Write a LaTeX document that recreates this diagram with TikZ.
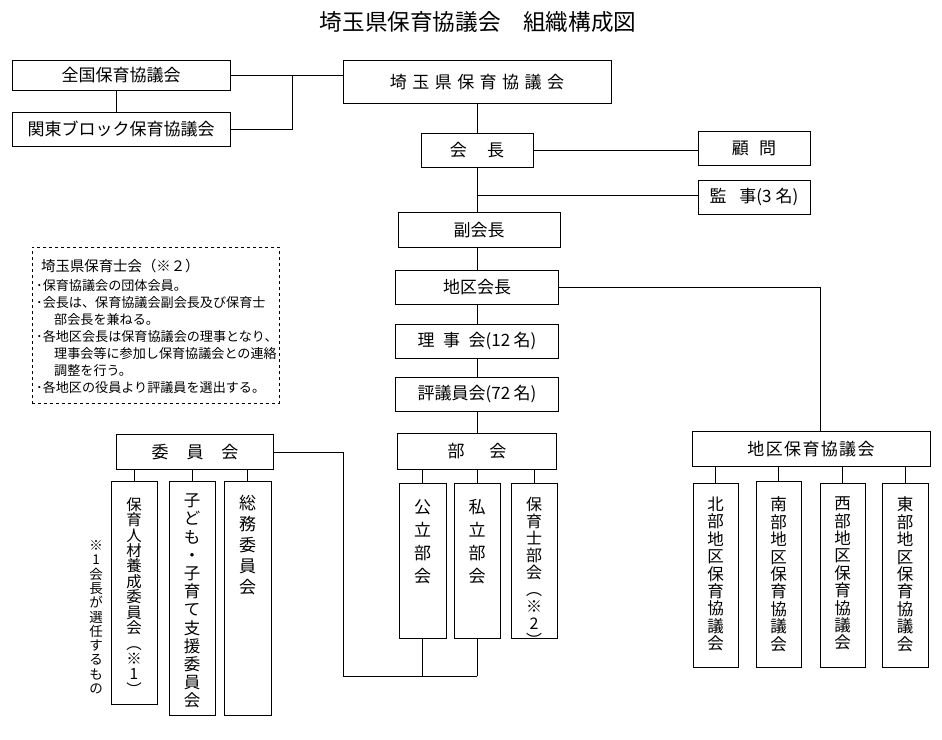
\documentclass[tikz,border=0pt]{standalone}
\usepackage{fontspec}
\setmainfont{Noto Sans CJK JP}
\newcommand\myg[1]{\hspace{#1em}}
\begin{document}
\begin{tikzpicture}[x=1pt,y=-1pt,
  box/.style={draw, line width=0.8pt, inner sep=0pt, font=\fontsize{17}{20}\selectfont},
  vbox/.style={draw, line width=0.8pt, inner sep=0pt},
  vtxt/.style={inner sep=0pt, align=center, anchor=north},
  ln/.style={line width=0.8pt},
  note/.style={inner sep=0pt, anchor=west, font=\fontsize{13.1}{15}\selectfont}]
\useasboundingbox (0,0) rectangle (942,739);

% title
\node[inner sep=0pt, font=\fontsize{22.6}{26}\selectfont] (title) at (478,22) {埼玉県保育協議会　組織構成図};

% top boxes
\node[box, minimum width=218, minimum height=30] (zenkoku) at (121,75) {全国保育協議会};
\node[box, minimum width=218, minimum height=34] (kanto) at (121,129) {関東ブロック保育協議会};
\node[box, minimum width=268, minimum height=43] (saitama) at (477,82) {埼\myg{.32}玉\myg{.32}県\myg{.32}保\myg{.32}育\myg{.32}協\myg{.32}議\myg{.32}会};

\node[box, minimum width=112, minimum height=34] (kaicho) at (477,150) {会\myg{1.18}長};
\node[box, minimum width=112, minimum height=34] (komon) at (754,148) {顧\myg{0.6}問};
\node[box, minimum width=112, minimum height=34] (kanji) at (754,197) {監\myg{0.75}事(3\myg{0.25}名)};

\node[box, minimum width=162, minimum height=35] (fuku) at (479,230) {副会長};
\node[box, minimum width=163, minimum height=34] (chikuk) at (477,287) {地区会長};
\node[box, minimum width=163, minimum height=34] (riji) at (477,341) {理\myg{0.5}事\myg{0.5}会(12\myg{0.2}名)};
\node[box, minimum width=163, minimum height=34] (hyogi) at (477,394) {評議員会(72\myg{0.2}名)};
\node[box, minimum width=159, minimum height=36] (bukai) at (477,451) {部\myg{1.45}会};
\node[box, minimum width=157, minimum height=35] (iinkai) at (195,452) {委\myg{1.05}員\myg{1.05}会};
\node[box, minimum width=238, minimum height=35] (chikukyo) at (811,449) {地\myg{.08}区\myg{.08}保\myg{.08}育\myg{.08}協\myg{.08}議\myg{.08}会};

% vertical boxes: bukai
\node[vbox, minimum width=47, minimum height=155] (koritsu) at (422.5,560.5) {};
\node[vbox, minimum width=46, minimum height=155] (shiritsu) at (477,560.5) {};
\node[vbox, minimum width=46, minimum height=155] (hoikushi) at (534,560.5) {};
\node[vtxt, font=\fontsize{17}{23}\selectfont] (t-koritsu) at (422.5,499.5) {公\\立\\部\\会};
\node[vtxt, font=\fontsize{17}{23}\selectfont] (t-shiritsu) at (477,499.5) {私\\立\\部\\会};
\node[vtxt, font=\fontsize{16}{17}\selectfont] (t-hoikushi) at (534,497) {保\\育\\士\\部\\会\\︵\\※\\2\\︶};

% vertical boxes: iinkai
\node[vbox, minimum width=46, minimum height=223] (jinzai) at (134,592.5) {};
\node[vbox, minimum width=46, minimum height=234] (kodomo) at (192,598) {};
\node[vbox, minimum width=47, minimum height=234] (somu) at (247.5,598) {};
\node[vtxt, font=\fontsize{15.4}{15.4}\selectfont] (t-jinzai) at (134,497.3) {保\\育\\人\\材\\養\\成\\委\\員\\会\\︵\\※\\1\\︶};
\node[vtxt, font=\fontsize{16.5}{18.2}\selectfont] (t-kodomo) at (192,493.8) {子\\ど\\も\\・\\子\\育\\て\\支\\援\\委\\員\\会};
\node[vtxt, font=\fontsize{17}{21}\selectfont] (t-somu) at (247.5,494.5) {総\\務\\委\\員\\会};

% note *1
\node[vtxt, font=\fontsize{13.5}{14.3}\selectfont] (t-note1) at (96,540.3) {※\\1\\会\\長\\が\\選\\任\\す\\る\\も\\の};

% district boxes
\node[vbox, minimum width=45, minimum height=184] (hokubu) at (715.5,575) {};
\node[vbox, minimum width=45, minimum height=186] (nanbu) at (778.5,574) {};
\node[vbox, minimum width=45, minimum height=184] (seibu) at (842.5,575) {};
\node[vbox, minimum width=46, minimum height=184] (tobu) at (905,575) {};
\node[vtxt, font=\fontsize{16.5}{17.4}\selectfont] (t-hokubu) at (715.5,496.8) {北\\部\\地\\区\\保\\育\\協\\議\\会};
\node[vtxt, font=\fontsize{16.5}{17.4}\selectfont] (t-nanbu) at (778.5,496.8) {南\\部\\地\\区\\保\\育\\協\\議\\会};
\node[vtxt, font=\fontsize{16.5}{17.4}\selectfont] (t-seibu) at (842.5,496.8) {西\\部\\地\\区\\保\\育\\協\\議\\会};
\node[vtxt, font=\fontsize{16.5}{17.4}\selectfont] (t-tobu) at (905,496.8) {東\\部\\地\\区\\保\\育\\協\\議\\会};

% dashed note box
\node[draw, dashed, line width=0.6pt, inner sep=0pt, minimum width=247, minimum height=156] (notebox) at (155.5,325) {};
\node[note, font=\fontsize{14.4}{16}\selectfont] (n0) at (41,266) {埼玉県保育士会（※２）};
\node[note] (n1) at (36,286) {･保育協議会の団体会員。};
\node[note] (n2) at (36,303) {･会長は、保育協議会副会長及び保育士};
\node[note] (n3) at (54,320) {部会長を兼ねる。};
\node[note] (n4) at (36,337) {･各地区会長は保育協議会の理事となり、};
\node[note] (n5) at (54,354) {理事会等に参加し保育協議会との連絡};
\node[note] (n6) at (54,371) {調整を行う。};
\node[note] (n7) at (36,388) {･各地区の役員より評議員を選出する。};

% connectors
\coordinate (j1) at (292,75);
\coordinate (j2) at (477,195);
\coordinate (j3) at (820,287);
\coordinate (j4) at (343,452);
\coordinate (j5) at (343,676);
\draw[ln] (zenkoku.east) -- (zenkoku.east -| saitama.west);
\draw[ln] (kanto.east) -| (j1);
\draw[ln] ([xshift=-5pt]zenkoku.south) -- ([xshift=-5pt]kanto.north);
\draw[ln] (saitama.south) -- (kaicho.north);
\draw[ln] (kaicho.east) -- (kaicho.east -| komon.west);
\draw[ln] (kaicho.south) -- (kaicho.south |- fuku.north);
\draw[ln] (j2) -- (j2 -| kanji.west);
\draw[ln] (fuku.south -| chikuk.north) -- (chikuk.north);
\draw[ln] (chikuk.south) -- (riji.north);
\draw[ln] (riji.south) -- (hyogi.north);
\draw[ln] (hyogi.south) -- (bukai.north);
\draw[ln] (chikuk.east) -- (j3) -- (j3 |- chikukyo.north);
\foreach \n in {hokubu,nanbu,seibu,tobu}
  \draw[ln] (\n.north |- chikukyo.south) -- (\n.north);
\foreach \n in {koritsu,shiritsu,hoikushi}
  \draw[ln] (\n.north |- bukai.south) -- (\n.north);
\foreach \n in {jinzai,kodomo,somu}
  \draw[ln] (\n.north |- iinkai.south) -- (\n.north);
\draw[ln] (iinkai.east) -- (j4) -- (j5) -- (j5 -| shiritsu.south);
\draw[ln] (koritsu.south) -- (koritsu.south |- j5);
\draw[ln] (shiritsu.south) -- (shiritsu.south |- j5);
\end{tikzpicture}
\end{document}
